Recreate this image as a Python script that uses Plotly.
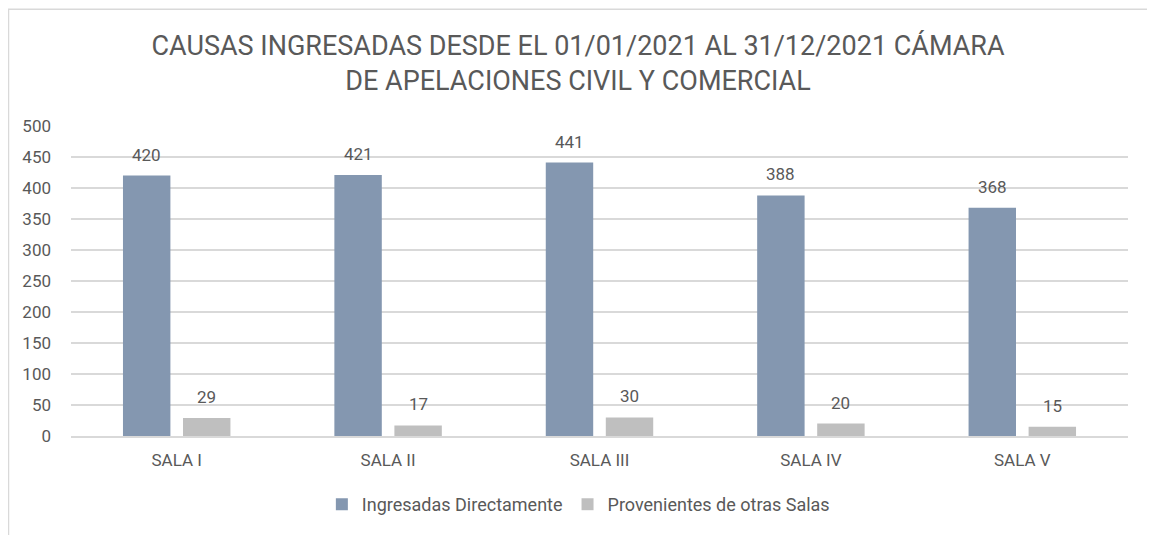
import plotly.graph_objects as go

categories = ["SALA I", "SALA II", "SALA III", "SALA IV", "SALA V"]
ingresadas = [420, 421, 441, 388, 368]
provenientes = [29, 17, 30, 20, 15]
series_names = ["Ingresadas Directamente", "Provenientes de otras Salas"]
title_text = "CAUSAS INGRESADAS DESDE EL 01/01/2021 AL 31/12/2021 CÁMARA<br>DE APELACIONES CIVIL Y COMERCIAL"

FONT = "Roboto, Arial, sans-serif"
TXT = "#595959"

# page body has an 8px margin; figure drawn offset accordingly
W, H = 1147, 527
L, T = 63, 118
R = W - 1120
B = H - 430
pw, ph = W - L - R, H - T - B

fig = go.Figure()
fig.add_trace(go.Bar(x=categories, y=ingresadas, name=series_names[0],
                     marker=dict(color="#8497B0", line=dict(width=0))))
fig.add_trace(go.Bar(x=categories, y=provenientes, name=series_names[1],
                     marker=dict(color="#BFBFBF", line=dict(width=0))))

# data labels
for series, dx in ((ingresadas, -30), (provenientes, 30)):
    for c, v in zip(categories, series):
        fig.add_annotation(x=c, y=v, text=str(v), showarrow=False,
                           xshift=dx, yshift=21, yanchor="middle",
                           font=dict(family=FONT, size=17, color=TXT))

def px_x(x):
    return (x - L) / pw

def px_y(y):
    return (H - B - y) / ph

fig.update_layout(
    width=W, height=H,
    margin=dict(l=L, r=R, t=T, b=B),
    paper_bgcolor="white", plot_bgcolor="white",
    barmode="group", bargap=0.432, bargroupgap=0.21,
    font=dict(family=FONT, color=TXT, size=17),
    title=dict(text=title_text, x=0.497, xanchor="center", y=0.911, yanchor="middle",
               font=dict(family=FONT, size=27, color=TXT)),
    xaxis=dict(showgrid=False, showline=True, linecolor="#D9D9D9", linewidth=1.5,
               ticks="", ticklabelstandoff=8, tickfont=dict(family=FONT, size=17, color=TXT)),
    yaxis=dict(range=[0, 500], dtick=50, showgrid=True, gridcolor="#D9D9D9", gridwidth=1.5,
               zeroline=False, showline=False, ticks="", ticklabelstandoff=19,
               tickfont=dict(family=FONT, size=17, color=TXT)),
    legend=dict(orientation="h", x=0.48, xanchor="center", y=-0.221, yanchor="middle",
                font=dict(family=FONT, size=18, color=TXT), itemwidth=30,
                traceorder="normal"),
    showlegend=True,
)

fig.add_shape(type="rect", xref="paper", yref="paper",
              x0=px_x(0.5), x1=px_x(1142), y0=px_y(560), y1=px_y(0.5),
              line=dict(color="#D9D9D9", width=1.5), fillcolor="rgba(0,0,0,0)", layer="below")

fig.write_html("out.html")
